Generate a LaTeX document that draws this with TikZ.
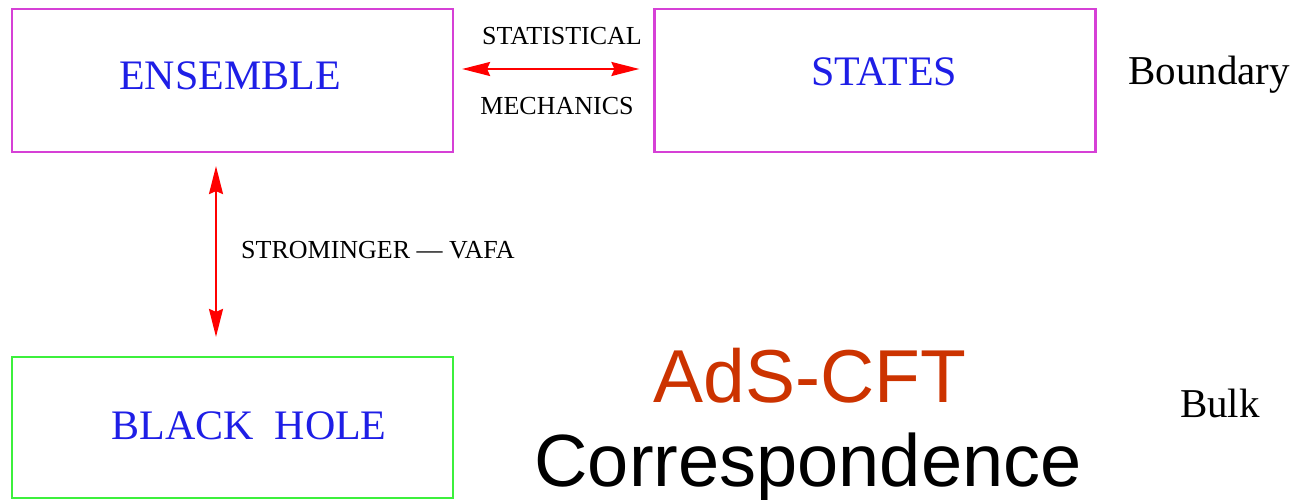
\documentclass[tikz,border=0pt]{standalone}
\usepackage{fontspec}
\setmainfont{Liberation Serif}
\newfontfamily\arialfont{Liberation Sans}
\usetikzlibrary{arrows.meta}
\definecolor{boxmag}{RGB}{214,64,214}
\definecolor{boxgreen}{RGB}{60,240,60}
\definecolor{txtblue}{RGB}{30,30,230}
\definecolor{adsred}{RGB}{204,51,0}
\tikzset{
  box/.style={draw, line width=2.2pt, minimum width=441pt, inner sep=0pt},
  boxtext/.style={anchor=base, text=txtblue, inner sep=0pt, font=\fontsize{42}{42}\selectfont},
  small/.style={anchor=base, inner sep=0pt, font=\fontsize{26}{26}\selectfont},
  side/.style={anchor=base, inner sep=0pt, font=\fontsize{41}{41}\selectfont},
  link/.style={red, line width=2pt, {Stealth[length=28pt,width=14pt,inset=3pt]}-{Stealth[length=28pt,width=14pt,inset=3pt]}}
}
\begin{document}
\begin{tikzpicture}[x=1pt,y=-1pt]
\useasboundingbox (0,0) rectangle (1296,500);
\node[box, boxmag, minimum height=143pt] (ens) at (232.5,80.5) {};
\node[box, boxmag, minimum height=143pt] (sta) at (875,80.5) {};
\node[box, boxgreen, minimum height=141pt] (bh) at (232.5,427.5) {};
\node[boxtext] (enst) at (230,90) {ENSEMBLE};
\node[boxtext] (stat) at (884,86) {STATES};
\node[boxtext] (bht) at (249,439) {BLACK\hspace{0.5em}HOLE};
\draw[link, shorten <=8pt, shorten >=14pt] ([yshift=11.5pt]ens.east) -- ([yshift=11.5pt]sta.west);
\draw[link, shorten <=13pt, shorten >=19pt] ([xshift=-16.5pt]ens.south) -- ([xshift=-16.5pt]bh.north);
\node[small] (st1) at (562,45) {STATISTICAL};
\node[small] (st2) at (557,115) {MECHANICS};
\node[small, anchor=base west] (sv) at (241,258) {STROMINGER --- VAFA};
\node[side] (bd) at (1209,85) {Boundary};
\node[side] (bk) at (1220,417) {Bulk};
\node[anchor=base, inner sep=0pt, text=adsred, font=\arialfont\fontsize{75}{75}\selectfont] (ads) at (810,402) {AdS-CFT};
\node[anchor=base, inner sep=0pt, font=\arialfont\fontsize{74}{74}\selectfont] (corr) at (808,486) {Correspondence};
\end{tikzpicture}
\end{document}
